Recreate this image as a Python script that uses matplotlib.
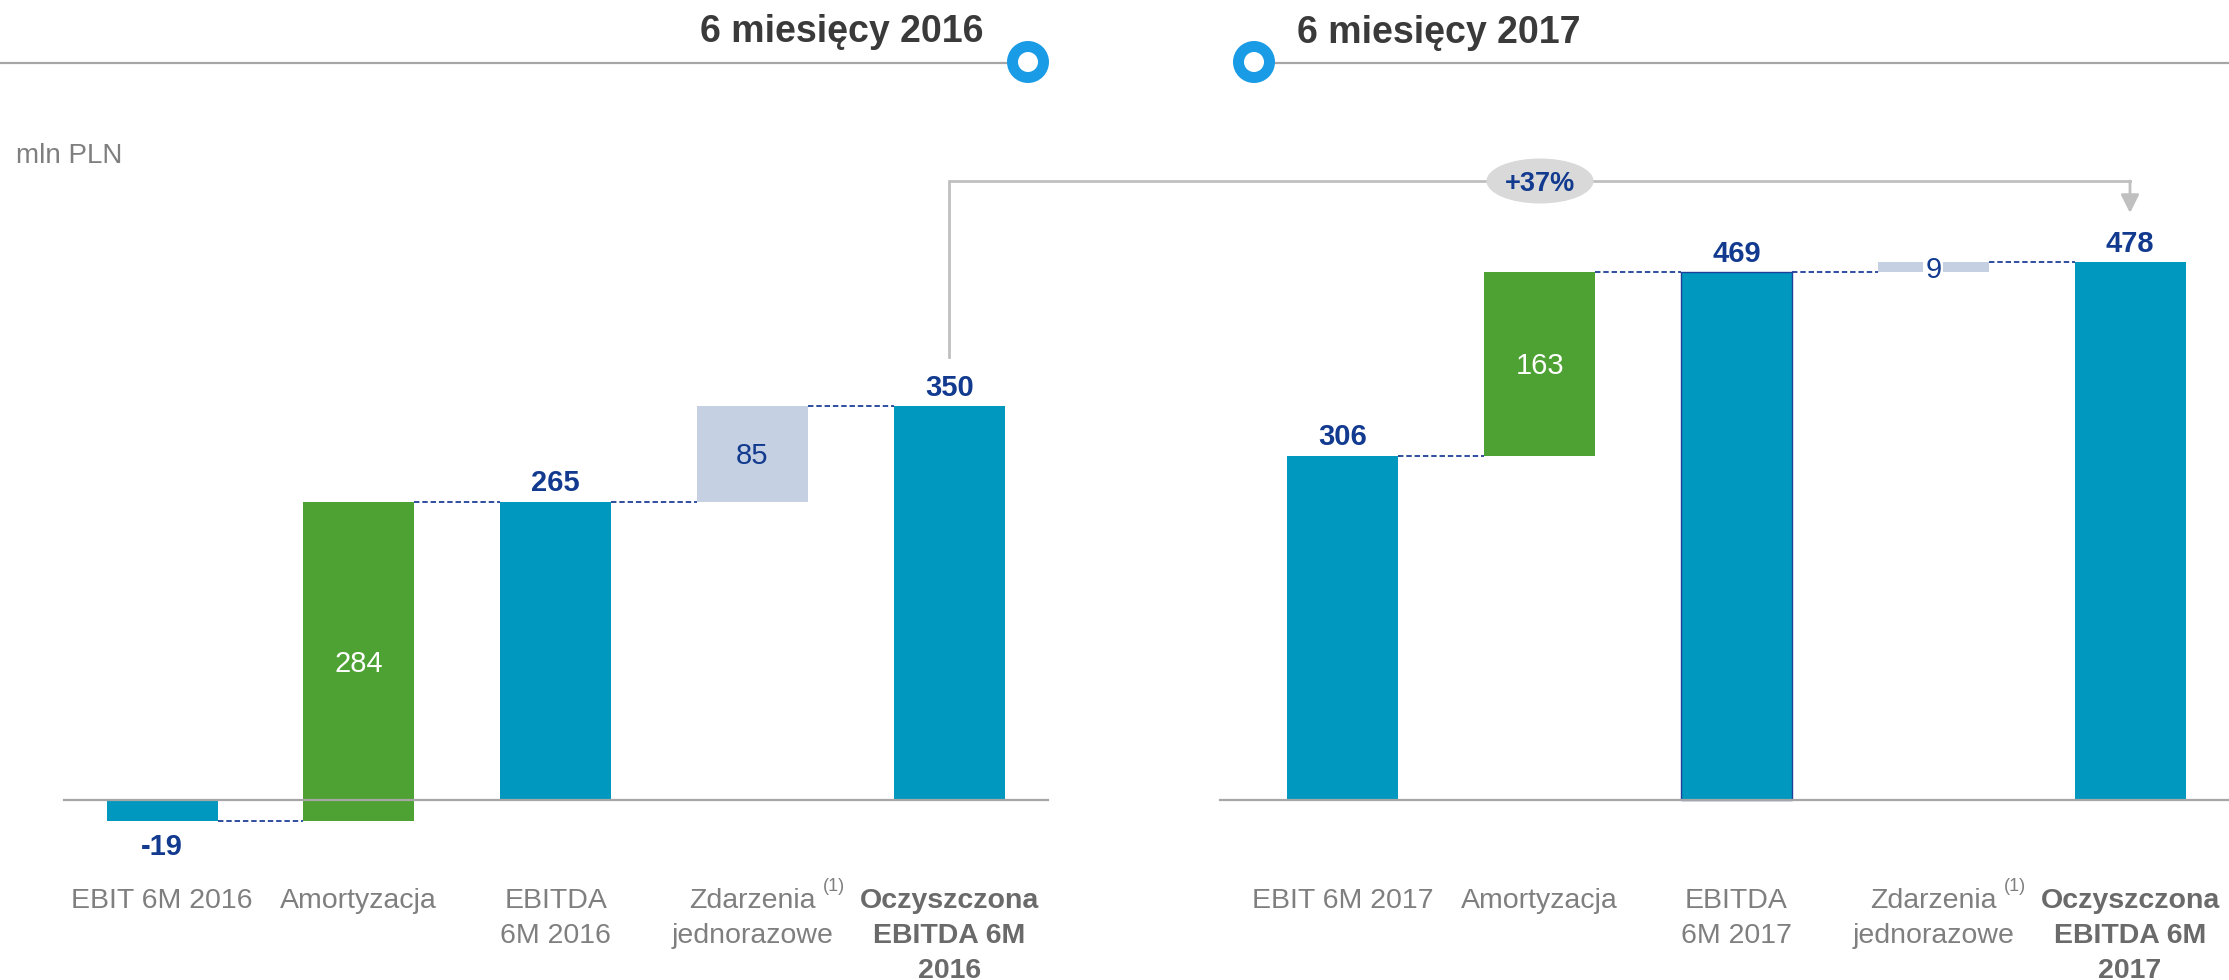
import matplotlib
matplotlib.use("Agg")
import matplotlib.pyplot as plt
import matplotlib.transforms as mtransforms
from matplotlib.patches import Ellipse, Circle
from matplotlib.lines import Line2D

# ---------------- data ----------------
panel_titles = ["6 miesięcy 2016", "6 miesięcy 2017"]
unit_label = "mln PLN"
growth_label = "+37%"

categories_2016 = ["EBIT 6M 2016", "Amortyzacja", "EBITDA\n6M 2016",
                   "Zdarzenia\njednorazowe", "Oczyszczona\nEBITDA 6M\n2016"]
categories_2017 = ["EBIT 6M 2017", "Amortyzacja", "EBITDA\n6M 2017",
                   "Zdarzenia\njednorazowe", "Oczyszczona\nEBITDA 6M\n2017"]
values_2016 = [-19, 284, 265, 85, 350]
values_2017 = [306, 163, 469, 9, 478]
kinds = ["total", "delta", "total", "delta", "total"]

# ---------------- style ----------------
W, H, DPI = 2229, 980, 100
TEAL = "#0098BE"
GREEN = "#4EA233"
LIGHT = "#C5D0E2"
DBLUE = "#123A8F"
GRAY_TXT = "#7f7f7f"
GRAY_BOLD = "#6a6a6a"
LINE_GRAY = "#a6a6a6"
ARROW_GRAY = "#c0c0c0"
CIRCLE_BLUE = "#1a9be6"

bar_colors = [TEAL, GREEN, TEAL, LIGHT, TEAL]
inner_text_colors = [None, "white", None, DBLUE, None]
label_bold = [False, False, False, False, True]

plt.rcParams["font.family"] = ["Liberation Sans", "DejaVu Sans"]

fig = plt.figure(figsize=(W / DPI, H / DPI), dpi=DPI)
ax = fig.add_axes([0, 0, 1, 1])
ax.axis("off")

# layout: one unit on x = one bar slot
x0_px, slot_px = 162.0, 196.8
zero_px, unit_px = 800.0, 1.125
ax.set_xlim(-x0_px / slot_px, (W - x0_px) / slot_px)
ax.set_ylim(-(H - zero_px) / unit_px, zero_px / unit_px)

# pixel transform (origin top-left)
PX = mtransforms.Affine2D().scale(1.0 / W, -1.0 / H).translate(0, 1) + fig.transFigure
XPX = mtransforms.blended_transform_factory(ax.transData, PX)

bar_w = 111 / slot_px
fs_val = 21
fs_cat = 20.5


def draw_panel(offset, cats, vals, outline_idx=None):
    xs = [offset + i for i in range(len(vals))]
    bottoms, heights, levels = [], [], []
    running = 0
    for k, v in zip(kinds, vals):
        if k == "total":
            bottoms.append(0)
            heights.append(v)
            running = v
        else:
            bottoms.append(running)
            heights.append(v)
            running += v
        levels.append(running)
    edgecolors = ["none"] * len(vals)
    lws = [0] * len(vals)
    if outline_idx is not None:
        edgecolors[outline_idx] = "#1F3F99"
        lws[outline_idx] = 1.0
    ax.bar(xs, heights, bottom=bottoms, width=bar_w, color=bar_colors,
           edgecolor=edgecolors, linewidth=lws, zorder=3)

    # dashed connectors
    for i in range(len(vals) - 1):
        ax.plot([xs[i] + bar_w / 2, xs[i + 1] - bar_w / 2], [levels[i], levels[i]],
                color="#1F3F99", lw=1.3, dashes=(3.0, 1.6), zorder=2)

    # labels
    for i, (x, b, h, k, v) in enumerate(zip(xs, bottoms, heights, kinds, vals)):
        if k == "total":
            if v >= 0:
                ax.annotate(f"{v}", xy=(x, b + h), xytext=(0, 7.5),
                            textcoords="offset points", ha="center", va="baseline",
                            fontsize=fs_val, fontweight="bold", color=DBLUE, zorder=5)
            else:
                ax.annotate(f"{v}", xy=(x, b + h), xytext=(0, -24.5),
                            textcoords="offset points", ha="center", va="baseline",
                            fontsize=fs_val, fontweight="bold", color=DBLUE, zorder=5)
        else:
            kw = {}
            if abs(v) < 30:
                kw["bbox"] = dict(facecolor="white", edgecolor="none", pad=1.5)
            ax.annotate(f"{v}", xy=(x, b + h / 2), xytext=(0, -7.5),
                        textcoords="offset points", ha="center", va="baseline",
                        fontsize=fs_val, color=inner_text_colors[i], zorder=5, **kw)

    # category labels
    base_lines = [908, 943, 978]
    for i, (x, c) in enumerate(zip(xs, cats)):
        lines = c.split("\n")
        bold = label_bold[i]
        for j, ln in enumerate(lines):
            t = ax.text(x, base_lines[j], ln, transform=XPX, ha="center", va="baseline",
                        fontsize=fs_cat, fontweight="bold" if bold else "normal",
                        color=GRAY_BOLD if bold else GRAY_TXT)
            if ln == "Zdarzenia":
                ax.annotate("(1)", xy=(1, 1), xycoords=t, xytext=(5, -5),
                            textcoords="offset points", ha="left", va="bottom",
                            fontsize=13, color=GRAY_TXT)
    return xs


xs16 = draw_panel(0, categories_2016, values_2016)
xs17 = draw_panel(6, categories_2017, values_2017, outline_idx=2)

# baselines
fig.add_artist(Line2D([64, 1048], [800, 800], transform=PX, color=LINE_GRAY, lw=1.6, zorder=4))
fig.add_artist(Line2D([1220, W], [800, 800], transform=PX, color=LINE_GRAY, lw=1.6, zorder=4))

# header
fig.add_artist(Line2D([0, 1028], [63, 63], transform=PX, color=LINE_GRAY, lw=1.6))
fig.add_artist(Line2D([1254, W], [63, 63], transform=PX, color=LINE_GRAY, lw=1.6))
for cx in (1028, 1254):
    fig.add_artist(Circle((cx, 62), 15.5, transform=PX, facecolor="white",
                          edgecolor=CIRCLE_BLUE, lw=7.9, zorder=5))
fig.text(984, 42, panel_titles[0], transform=PX, ha="right", va="baseline",
         fontsize=27, fontweight="bold", color="#3a3a3a")
fig.text(1297, 43, panel_titles[1], transform=PX, ha="left", va="baseline",
         fontsize=27, fontweight="bold", color="#3a3a3a")

# unit label
fig.text(16, 163, unit_label, transform=PX, ha="left", va="baseline",
         fontsize=20, color=GRAY_TXT)

# growth arrow
ax.plot([xs16[-1], xs16[-1], xs17[-1]], [357, 181, 181], transform=XPX,
        color=ARROW_GRAY, lw=2.0, solid_joinstyle="miter", zorder=2)
ax.annotate("", xy=(xs17[-1], 213), xytext=(xs17[-1], 181), xycoords=XPX, textcoords=XPX,
            arrowprops=dict(arrowstyle="-|>,head_length=1.1,head_width=0.55",
                            color=ARROW_GRAY, lw=2.0, shrinkA=0, shrinkB=0))
fig.add_artist(Ellipse((1540, 181), 107, 45, transform=PX, facecolor="#d9d9d9",
                       edgecolor="none", zorder=6))
fig.text(1540, 191, growth_label, transform=PX, ha="center", va="baseline",
         fontsize=19.5, fontweight="bold", color=DBLUE, zorder=7)

fig.savefig("out.png", dpi=DPI)
